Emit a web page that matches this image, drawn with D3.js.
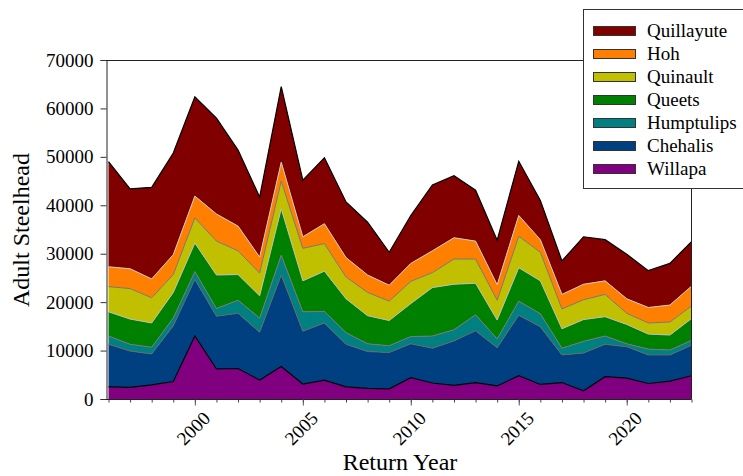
<!DOCTYPE html>
<html>
<head>
<meta charset="utf-8">
<script src="https://cdn.jsdelivr.net/npm/d3@7"></script>
<style>
  body { margin: 0; background: #fff; }
  svg text { font-family: 'Liberation Serif', 'Times New Roman', serif; fill: #000; }
</style>
</head>
<body>
<div class="chart"></div>
<script>

const years = [1996, 1997, 1998, 1999, 2000, 2001, 2002, 2003, 2004, 2005, 2006, 2007, 2008, 2009,
    2010, 2011, 2012, 2013, 2014, 2015, 2016, 2017, 2018, 2019, 2020, 2021, 2022, 2023];

const willapa = [2500, 2400, 2900, 3600, 13000, 6200, 6300, 3900, 6700, 3100, 3900, 2500, 2200, 2100,
    4400, 3300, 2800, 3400, 2700, 4800, 3000, 3400, 1700, 4600, 4300, 3200, 3700, 4800];
const chehalis = [8800, 7500, 6400, 11500, 11700, 10900, 11400, 9900, 18900, 10900, 11800, 8800, 7600, 7500,
    7000, 7200, 9200, 10700, 7900, 12500, 11900, 5700, 7800, 6700, 6500, 5900, 5400, 6300];
const humptulips = [1700, 1400, 1400, 1600, 1600, 1600, 2700, 2900, 4100, 4000, 2400, 2400, 1600, 1400,
    1500, 2500, 2300, 3300, 1800, 2900, 2700, 1400, 2400, 1700, 600, 1200, 1000, 1000];
const queets = [5000, 5200, 5000, 5300, 5900, 6900, 5300, 4600, 9600, 6400, 8300, 7000, 5800, 5200,
    6800, 10000, 9400, 6500, 3900, 6900, 6800, 4000, 4500, 4000, 4000, 3100, 3100, 4500];
const quinault = [5200, 6300, 5200, 3700, 5200, 7000, 4900, 4700, 5700, 6700, 5700, 4500, 4800, 4000,
    4600, 3100, 5200, 5000, 4100, 6500, 5900, 4100, 4100, 4600, 2300, 2300, 2700, 2600];
const hoh = [4100, 4100, 3900, 4100, 4500, 5600, 5100, 3300, 3900, 2400, 4100, 4000, 3600, 3300,
    3700, 4500, 4400, 3700, 3200, 4300, 2600, 3000, 3200, 2800, 3000, 3200, 3500, 4100];
const quillayute = [21700, 16500, 18900, 21000, 20500, 19800, 15700, 12400, 15600, 11700, 13600, 11500, 10900, 6800,
    9900, 13600, 12800, 10500, 9200, 11200, 8100, 6900, 9800, 8500, 9200, 7600, 8600, 9200];

// bottom to top
const rivers = ['Willapa', 'Chehalis', 'Humptulips', 'Queets', 'Quinault', 'Hoh', 'Quillayute'];
const series = [willapa, chehalis, humptulips, queets, quinault, hoh, quillayute];
const fills = ['#800080', '#004080', '#008080', '#008000', '#c0c000', '#ff8000', '#800000'];
const edges = ['#000', '#666', '#777', '#bbb', '#777', '#ccc', '#000'];

const yTicks = [0, 10000, 20000, 30000, 40000, 50000, 60000, 70000];
const xTicks = [2000, 2005, 2010, 2015, 2020];

const width = 743;
const height = 476;
const serif = "'Liberation Serif', 'Times New Roman', serif";

buildChart();

function buildChart() {

    const svg = d3.select('.chart')
        .append('svg')
        .attr('width', width)
        .attr('height', height);

    const table = years.map((yr, i) => {
        let row = { year: yr };
        rivers.forEach((r, k) => { row[r] = series[k][i]; });
        return row;
    });

    let x = d3.scaleLinear()
        .domain([1996, 2023])
        .range([108.5, 691.5]);

    let y = d3.scaleLinear()
        .domain([0, 70000])
        .range([399, 60]);

    let stack = d3.stack().keys(rivers);
    let layers = stack(table);

    let area = d3.area()
        .x((d) => x(d.data.year))
        .y0((d) => y(d[0]))
        .y1((d) => y(d[1]));

    let line = d3.line()
        .x((d) => x(d.data.year))
        .y((d) => y(d[1]));

    svg.append('g')
        .selectAll('path')
        .data(layers)
        .enter()
        .append('path')
        .attr('d', area)
        .attr('fill', (d, i) => fills[i]);

    svg.append('g')
        .selectAll('path')
        .data(layers)
        .enter()
        .append('path')
        .attr('d', line)
        .attr('fill', 'none')
        .attr('stroke', (d, i) => edges[i])
        .attr('stroke-width', (d, i) => (i === 0 || i === 6) ? 1.2 : 1);

    // frame
    svg.append('path')
        .attr('d', `M106.5,60.5H691.5V399.5`)
        .attr('fill', 'none')
        .attr('stroke', '#222')
        .attr('stroke-width', 1);

    // y axis
    let yAxis = svg.append('g')
        .attr('transform', 'translate(106.5,0)')
        .call(d3.axisLeft(y).tickValues(yTicks).tickFormat(d3.format('d')).tickSizeOuter(0).tickSize(6).tickPadding(7));
    yAxis.attr('font-family', null);
    yAxis.select('.domain').attr('stroke', '#222');
    yAxis.selectAll('.tick line').attr('stroke', '#333');
    yAxis.selectAll('text')
        .style('font-family', serif)
        .style('font-size', '19px');

    // x minor ticks
    let xMinor = svg.append('g')
        .attr('transform', 'translate(0,399.5)')
        .call(d3.axisBottom(x).tickValues(years).tickFormat('').tickSize(3).tickSizeOuter(0));
    xMinor.select('.domain').remove();
    xMinor.selectAll('.tick line').attr('stroke', '#444');

    let xAxis = svg.append('g')
        .attr('transform', 'translate(0,399.5)')
        .call(d3.axisBottom(x).tickValues(xTicks).tickFormat(d3.format('d')).tickSize(6).tickSizeOuter(0));
    xAxis.attr('font-family', null);
    xAxis.select('.domain')
        .attr('d', 'M106,0H691.5')
        .attr('stroke', '#222');
    xAxis.selectAll('.tick line').attr('stroke', '#555');
    xAxis.selectAll('text')
        .style('font-family', serif)
        .style('font-size', '19px')
        .attr('text-anchor', 'end')
        .attr('y', 0)
        .attr('dy', 0)
        .attr('transform', 'translate(16,20) rotate(-45)');

    svg.append('text')
        .attr('x', 400)
        .attr('y', 470)
        .attr('text-anchor', 'middle')
        .style('font-family', serif)
        .style('font-size', '24px')
        .text('Return Year');

    svg.append('text')
        .attr('transform', 'translate(29,230) rotate(-90)')
        .attr('text-anchor', 'middle')
        .style('font-family', serif)
        .style('font-size', '24px')
        .text('Adult Steelhead');

    // legend
    let legend = svg.append('g');
    legend.append('rect')
        .attr('x', 583.5)
        .attr('y', 9.5)
        .attr('width', 175)
        .attr('height', 179)
        .attr('fill', '#fff')
        .attr('stroke', '#333');

    let items = legend.selectAll('.item')
        .data(rivers.slice().reverse())
        .enter()
        .append('g')
        .attr('class', 'item')
        .attr('transform', (d, i) => `translate(0, ${31 + i * 23})`);

    items.append('rect')
        .attr('x', 593.5)
        .attr('y', -4.5)
        .attr('width', 42)
        .attr('height', 9)
        .attr('fill', (d) => fills[rivers.indexOf(d)])
        .attr('stroke', '#333');

    items.append('text')
        .attr('x', 647)
        .attr('y', 6)
        .style('font-family', serif)
        .style('font-size', '19px')
        .text((d) => d);
}

</script>
</body>
</html>
